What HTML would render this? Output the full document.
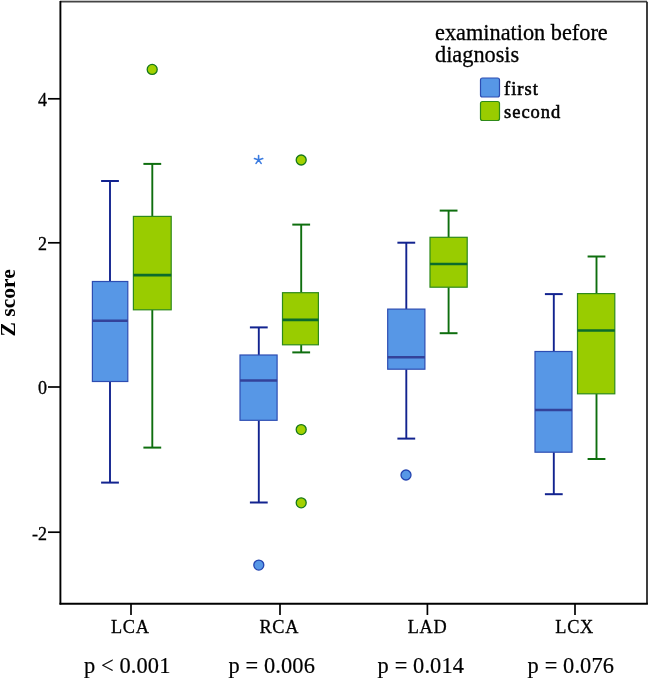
<!DOCTYPE html>
<html><head><meta charset="utf-8"><style>
html,body{margin:0;padding:0;background:#fff;}
body{width:650px;height:680px;overflow:hidden;position:relative;}
svg{position:absolute;left:0;top:0;will-change:transform;}
text{font-family:"Liberation Serif",serif;fill:#000;}
</style></head><body>
<svg width="650" height="680" viewBox="0 0 650 680">
<rect x="60" y="0" width="587" height="1" fill="#c8c8c8"/>
<!-- frame -->
<line x1="60.5" y1="1.7" x2="647" y2="1.7" stroke="#444" stroke-width="1.6"/>
<line x1="647" y1="1.7" x2="647" y2="603.7" stroke="#2a2a2a" stroke-width="1.8"/>
<line x1="60.4" y1="1" x2="60.4" y2="604.6" stroke="#000" stroke-width="1.9"/>
<line x1="59.5" y1="603.7" x2="647.9" y2="603.7" stroke="#000" stroke-width="1.9"/>
<!-- y ticks -->
<line x1="48" y1="98.8" x2="60" y2="98.8" stroke="#000" stroke-width="1.7"/>
<line x1="48" y1="242.8" x2="60" y2="242.8" stroke="#000" stroke-width="1.7"/>
<line x1="48" y1="387.0" x2="60" y2="387.0" stroke="#000" stroke-width="1.7"/>
<line x1="48" y1="532.2" x2="60" y2="532.2" stroke="#000" stroke-width="1.7"/>
<!-- x ticks -->
<line x1="131" y1="603" x2="131" y2="615" stroke="#000" stroke-width="1.7"/>
<line x1="280" y1="603" x2="280" y2="615" stroke="#000" stroke-width="1.7"/>
<line x1="427.4" y1="603" x2="427.4" y2="615" stroke="#000" stroke-width="1.7"/>
<line x1="575" y1="603" x2="575" y2="615" stroke="#000" stroke-width="1.7"/>
<!-- y labels -->
<g font-size="18" text-anchor="end" stroke="#000" stroke-width="0.3">
<text x="47" y="106.1">4</text>
<text x="47" y="250.1">2</text>
<text x="47" y="394.3">0</text>
<text x="47" y="539.5">-2</text>
</g>
<text font-size="21.6" font-weight="bold" text-anchor="middle" transform="translate(15.2,302.8) rotate(-90)">Z score</text>
<!-- x labels -->
<g font-size="18.3" text-anchor="middle" letter-spacing="0.7" stroke="#000" stroke-width="0.3">
<text x="130.3" y="632.5">LCA</text>
<text x="279.3" y="632.5">RCA</text>
<text x="427.5" y="632.5">LAD</text>
<text x="574.7" y="632.5">LCX</text>
</g>
<g font-size="22.4" letter-spacing="0.12" stroke="#000" stroke-width="0.2">
<text x="84" y="672.8">p &lt; 0.001</text>
<text x="228.5" y="673">p = 0.006</text>
<text x="377.6" y="673">p = 0.014</text>
<text x="527.6" y="673">p = 0.076</text>
</g>
<!-- legend -->
<g font-size="22.3" stroke="#000" stroke-width="0.3">
<text x="435" y="40.1">examination before</text>
<text x="435" y="62.0">diagnosis</text>
</g>
<rect x="480.5" y="78" width="19" height="19" rx="2" fill="#5797e6" stroke="#2d4db2" stroke-width="1.2"/>
<rect x="480.5" y="101.5" width="19" height="19" rx="2" fill="#99cc00" stroke="#2e8a1a" stroke-width="1.2"/>
<g font-size="18.5" letter-spacing="1.0" stroke="#000" stroke-width="0.55">
<text x="504" y="94.8">first</text>
<text x="504" y="117.8">second</text>
</g>
<line x1="110.0" y1="181.0" x2="110.0" y2="281.5" stroke="#12238f" stroke-width="1.9"/>
<line x1="110.0" y1="381.5" x2="110.0" y2="482.6" stroke="#12238f" stroke-width="1.9"/>
<line x1="101.1" y1="181.0" x2="118.9" y2="181.0" stroke="#12238f" stroke-width="2"/>
<line x1="101.1" y1="482.6" x2="118.9" y2="482.6" stroke="#12238f" stroke-width="2"/>
<rect x="92.4" y="281.5" width="35.4" height="100.0" fill="#5797e6" stroke="#2d4db2" stroke-width="1.2"/>
<line x1="92.4" y1="320.7" x2="127.8" y2="320.7" stroke="#33429a" stroke-width="2.5"/>
<line x1="152.3" y1="163.9" x2="152.3" y2="216.4" stroke="#0e6e0e" stroke-width="1.9"/>
<line x1="152.3" y1="309.8" x2="152.3" y2="447.6" stroke="#0e6e0e" stroke-width="1.9"/>
<line x1="143.4" y1="163.9" x2="161.20000000000002" y2="163.9" stroke="#0e6e0e" stroke-width="2"/>
<line x1="143.4" y1="447.6" x2="161.20000000000002" y2="447.6" stroke="#0e6e0e" stroke-width="2"/>
<rect x="133.4" y="216.4" width="37.8" height="93.4" fill="#99cc00" stroke="#2e8a1a" stroke-width="1.2"/>
<line x1="133.4" y1="275.2" x2="171.2" y2="275.2" stroke="#0b6b2c" stroke-width="2.7"/>
<line x1="258.8" y1="327.4" x2="258.8" y2="355.0" stroke="#12238f" stroke-width="1.9"/>
<line x1="258.8" y1="420.3" x2="258.8" y2="502.5" stroke="#12238f" stroke-width="1.9"/>
<line x1="249.9" y1="327.4" x2="267.7" y2="327.4" stroke="#12238f" stroke-width="2"/>
<line x1="249.9" y1="502.5" x2="267.7" y2="502.5" stroke="#12238f" stroke-width="2"/>
<rect x="240.0" y="355.0" width="37.1" height="65.3" fill="#5797e6" stroke="#2d4db2" stroke-width="1.2"/>
<line x1="240.0" y1="380.6" x2="277.1" y2="380.6" stroke="#33429a" stroke-width="2.5"/>
<line x1="301.2" y1="224.6" x2="301.2" y2="292.7" stroke="#0e6e0e" stroke-width="1.9"/>
<line x1="301.2" y1="344.8" x2="301.2" y2="352.4" stroke="#0e6e0e" stroke-width="1.9"/>
<line x1="292.3" y1="224.6" x2="310.09999999999997" y2="224.6" stroke="#0e6e0e" stroke-width="2"/>
<line x1="292.3" y1="352.4" x2="310.09999999999997" y2="352.4" stroke="#0e6e0e" stroke-width="2"/>
<rect x="282.5" y="292.7" width="35.9" height="52.1" fill="#99cc00" stroke="#2e8a1a" stroke-width="1.2"/>
<line x1="282.5" y1="319.8" x2="318.4" y2="319.8" stroke="#0b6b2c" stroke-width="2.7"/>
<line x1="406.3" y1="242.7" x2="406.3" y2="309.1" stroke="#12238f" stroke-width="1.9"/>
<line x1="406.3" y1="369.2" x2="406.3" y2="438.6" stroke="#12238f" stroke-width="1.9"/>
<line x1="397.40000000000003" y1="242.7" x2="415.2" y2="242.7" stroke="#12238f" stroke-width="2"/>
<line x1="397.40000000000003" y1="438.6" x2="415.2" y2="438.6" stroke="#12238f" stroke-width="2"/>
<rect x="387.7" y="309.1" width="37.2" height="60.1" fill="#5797e6" stroke="#2d4db2" stroke-width="1.2"/>
<line x1="387.7" y1="357.2" x2="424.9" y2="357.2" stroke="#33429a" stroke-width="2.5"/>
<line x1="448.6" y1="210.6" x2="448.6" y2="237.3" stroke="#0e6e0e" stroke-width="1.9"/>
<line x1="448.6" y1="287.2" x2="448.6" y2="333.2" stroke="#0e6e0e" stroke-width="1.9"/>
<line x1="439.70000000000005" y1="210.6" x2="457.5" y2="210.6" stroke="#0e6e0e" stroke-width="2"/>
<line x1="439.70000000000005" y1="333.2" x2="457.5" y2="333.2" stroke="#0e6e0e" stroke-width="2"/>
<rect x="430.0" y="237.3" width="37.2" height="49.9" fill="#99cc00" stroke="#2e8a1a" stroke-width="1.2"/>
<line x1="430.0" y1="264.0" x2="467.2" y2="264.0" stroke="#0b6b2c" stroke-width="2.7"/>
<line x1="553.8" y1="294.1" x2="553.8" y2="351.5" stroke="#12238f" stroke-width="1.9"/>
<line x1="553.8" y1="452.2" x2="553.8" y2="494.2" stroke="#12238f" stroke-width="1.9"/>
<line x1="544.9" y1="294.1" x2="562.6999999999999" y2="294.1" stroke="#12238f" stroke-width="2"/>
<line x1="544.9" y1="494.2" x2="562.6999999999999" y2="494.2" stroke="#12238f" stroke-width="2"/>
<rect x="535.0" y="351.5" width="37.0" height="100.7" fill="#5797e6" stroke="#2d4db2" stroke-width="1.2"/>
<line x1="535.0" y1="409.9" x2="572.0" y2="409.9" stroke="#33429a" stroke-width="2.5"/>
<line x1="596.5" y1="256.5" x2="596.5" y2="293.6" stroke="#0e6e0e" stroke-width="1.9"/>
<line x1="596.5" y1="393.8" x2="596.5" y2="459.0" stroke="#0e6e0e" stroke-width="1.9"/>
<line x1="587.6" y1="256.5" x2="605.4" y2="256.5" stroke="#0e6e0e" stroke-width="2"/>
<line x1="587.6" y1="459.0" x2="605.4" y2="459.0" stroke="#0e6e0e" stroke-width="2"/>
<rect x="577.5" y="293.6" width="37.3" height="100.2" fill="#99cc00" stroke="#2e8a1a" stroke-width="1.2"/>
<line x1="577.5" y1="330.5" x2="614.8" y2="330.5" stroke="#0b6b2c" stroke-width="2.7"/>
<circle cx="152.2" cy="69.4" r="5" fill="#a3d100" stroke="#16781a" stroke-width="1.3"/>
<circle cx="301.2" cy="160.0" r="5" fill="#a3d100" stroke="#16781a" stroke-width="1.3"/>
<circle cx="301.2" cy="429.6" r="5" fill="#a3d100" stroke="#16781a" stroke-width="1.3"/>
<circle cx="301.2" cy="502.8" r="5" fill="#a3d100" stroke="#16781a" stroke-width="1.3"/>
<circle cx="258.8" cy="565.1" r="5" fill="#5797e6" stroke="#2444b0" stroke-width="1.3"/>
<circle cx="406.0" cy="475.0" r="5" fill="#5797e6" stroke="#2444b0" stroke-width="1.3"/>
<path d="M258.6 159.9L258.60 155.60M258.6 159.9L262.69 158.57M258.6 159.9L261.13 163.38M258.6 159.9L256.07 163.38M258.6 159.9L254.51 158.57" stroke="#3a7be0" stroke-width="1.6" stroke-linecap="round" fill="none"/>
</svg>
</body></html>
